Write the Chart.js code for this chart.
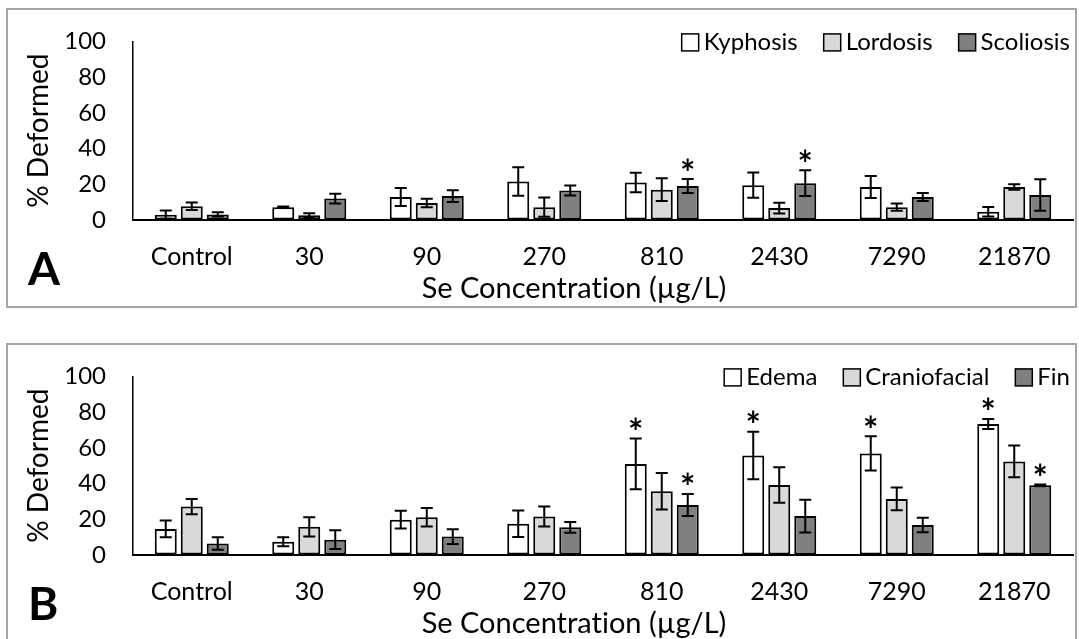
<!DOCTYPE html>
<html>
<head>
<meta charset="utf-8">
<script src="https://cdn.jsdelivr.net/npm/chart.js@4.4.0/dist/chart.umd.min.js"></script>
<style>
  body { margin: 0; background: #fff; width: 1079px; height: 639px; overflow: hidden; position: relative; font-family: Lato, sans-serif; }
  .frame { position: absolute; left: 6px; width: 1071px; height: 300px; border: 2px solid #a6a6a6; box-sizing: border-box; }
  .panel { position: absolute; left: 0; }
  .letter { position: absolute; left: 28px; font: bold 46px Lato; line-height: 1; color: #000; }
  .xtitle { position: absolute; left: 574px; transform: translateX(-50%); font: 29px Lato; line-height: 1; color: #000; white-space: nowrap; font-variant-ligatures: none; font-feature-settings: "liga" 0, "clig" 0; }
</style>
</head>
<body>
<div class="frame" style="top:8px"></div>
<div class="frame" style="top:343px"></div>
<canvas id="chartA" class="panel" width="1079" height="320" style="top:0"></canvas>
<canvas id="chartB" class="panel" width="1079" height="320" style="top:335px"></canvas>
<div class="letter" style="top:245px">A</div>
<div class="letter" style="top:580px">B</div>
<div class="xtitle" style="top:272px">Se Concentration (µg/L)</div>
<div class="xtitle" style="top:607px">Se Concentration (µg/L)</div>
<script>
const categories = ['Control', '30', '90', '270', '810', '2430', '7290', '21870'];

// A: spinal deformities
const kyphosis     = [3.0, 7.2, 12.9, 21.6, 21.0, 19.5, 18.5, 4.6];
const kyphosisErr  = [2.3, 0.3, 5.0, 8.0, 5.4, 7.1, 6.2, 2.7];
const lordosis     = [7.7, 2.6, 9.5, 7.2, 17.0, 6.7, 7.2, 18.5];
const lordosisErr  = [2.1, 1.2, 2.4, 5.4, 6.4, 3.0, 2.0, 1.5];
const scoliosis    = [3.1, 12.0, 13.4, 16.5, 19.0, 20.6, 12.9, 14.0];
const scoliosisErr = [1.2, 2.7, 3.3, 2.8, 3.9, 7.2, 2.2, 8.8];
const scoliosisSig = [false, false, false, false, true, true, false, false];

// B: other deformities
const edema        = [14.6, 7.4, 19.8, 17.5, 51.0, 55.7, 56.9, 73.4];
const edemaErr     = [4.7, 2.5, 5.0, 7.4, 14.2, 13.3, 9.6, 2.8];
const edemaSig     = [false, false, false, false, true, true, true, true];
const cranio       = [27.1, 15.8, 21.1, 21.5, 35.7, 39.2, 31.4, 52.4];
const cranioErr    = [4.3, 5.4, 5.2, 5.6, 10.2, 10.0, 6.4, 8.9];
const fin          = [6.5, 8.6, 10.3, 15.5, 28.0, 21.8, 16.8, 39.0];
const finErr       = [3.5, 5.3, 4.1, 3.0, 6.2, 9.2, 4.0, 0.5];
const finSig       = [false, false, false, false, true, false, false, true];

const FONT = 'Lato';
const WHITE = '#ffffff', LIGHT = '#d9d9d9', DARK = '#7f7f7f';

// error bars and significance stars on top of each bar
const errorBars = {
  id: 'errorBars',
  afterDatasetsDraw(chart) {
    const ctx = chart.ctx;
    const yScale = chart.scales.y;
    ctx.save();
    chart.data.datasets.forEach((ds, i) => {
      const meta = chart.getDatasetMeta(i);
      meta.data.forEach((bar, j) => {
        const v = ds.data[j], e = ds.errors[j];
        const top = yScale.getPixelForValue(v + e);
        const bot = yScale.getPixelForValue(Math.max(v - e, 0));
        ctx.strokeStyle = '#000';
        ctx.lineWidth = 2;
        ctx.beginPath();
        ctx.moveTo(bar.x, top); ctx.lineTo(bar.x, bot);
        ctx.moveTo(bar.x - 6, top); ctx.lineTo(bar.x + 6, top);
        ctx.moveTo(bar.x - 6, bot); ctx.lineTo(bar.x + 6, bot);
        ctx.stroke();
        if (ds.sig && ds.sig[j]) {
          ctx.font = 'bold 36px ' + FONT;
          ctx.fillStyle = '#000';
          ctx.textAlign = 'center';
          ctx.textBaseline = 'alphabetic';
          const m = ctx.measureText('*');
          const centre = top - 15;
          ctx.fillText('*', bar.x, centre + (m.actualBoundingBoxAscent - m.actualBoundingBoxDescent) / 2);
        }
      });
    });
    ctx.restore();
  }
};

// legend row in the top right corner
const boxLegend = {
  id: 'boxLegend',
  afterDraw(chart) {
    const ctx = chart.ctx, area = chart.chartArea;
    ctx.save();
    ctx.font = '24px ' + FONT;
    ctx.textBaseline = 'middle';
    let x = area.right - 3;
    const y = area.top + 1;
    chart.data.datasets.slice().reverse().forEach(ds => {
      const w = ctx.measureText(ds.label).width;
      ctx.fillStyle = '#000';
      ctx.fillText(ds.label, x - w, y);
      x -= w + 5 + 17;
      ctx.fillStyle = ds.backgroundColor;
      ctx.fillRect(x, y - 8.5, 17, 17);
      ctx.lineWidth = 1.5;
      ctx.strokeStyle = '#000';
      ctx.strokeRect(x, y - 8.5, 17, 17);
      x -= 26;
    });
    ctx.restore();
  }
};

function series(label, data, errors, color, sig) {
  return {
    label, data, errors, sig,
    backgroundColor: color,
    borderColor: '#000',
    borderWidth: 2,
    borderSkipped: false,
    categoryPercentage: 0.664,
    barPercentage: 0.846
  };
}

function makeChart(id, datasets) {
  return new Chart(document.getElementById(id), {
    type: 'bar',
    data: { labels: categories, datasets },
    plugins: [errorBars, boxLegend],
    options: {
      responsive: false,
      animation: false,
      layout: { padding: { top: 26, right: 6, left: 0, bottom: 0 } },
      plugins: { legend: { display: false }, tooltip: { enabled: false } },
      scales: {
        x: {
          grid: { display: true, drawOnChartArea: false, drawTicks: false },
          border: { display: true, color: '#000', width: 2 },
          ticks: { color: '#000', padding: 22, font: { family: FONT, size: 25 } },
          afterFit(s) { s.height = 100; }
        },
        y: {
          min: 0, max: 100,
          grid: { display: true, drawOnChartArea: false, drawTicks: false },
          border: { display: true, color: '#000', width: 1.5 },
          ticks: { stepSize: 20, color: '#000', padding: 27, font: { family: FONT, size: 24 } },
          title: { display: true, text: '% Deformed', color: '#000', font: { family: FONT, size: 28 }, padding: { top: 22, bottom: 0 } },
          afterFit(s) { s.width = 133; }
        }
      }
    }
  });
}

makeChart('chartA', [
  series('Kyphosis', kyphosis, kyphosisErr, WHITE, null),
  series('Lordosis', lordosis, lordosisErr, LIGHT, null),
  series('Scoliosis', scoliosis, scoliosisErr, DARK, scoliosisSig)
]);

makeChart('chartB', [
  series('Edema', edema, edemaErr, WHITE, edemaSig),
  series('Craniofacial', cranio, cranioErr, LIGHT, null),
  series('Fin', fin, finErr, DARK, finSig)
]);
</script>
</body>
</html>
